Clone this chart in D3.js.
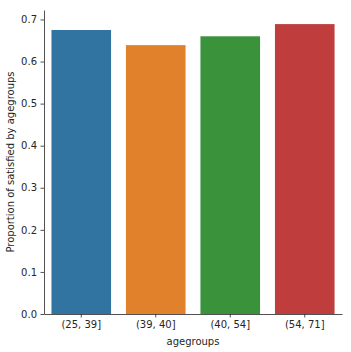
<!DOCTYPE html>
<html>
<head>
<meta charset="utf-8">
<script src="https://cdn.jsdelivr.net/npm/d3@7"></script>
<style>
  body { margin: 0; background: #fff; }
  text { font-family: "DejaVu Sans", sans-serif; fill: #262626; }
</style>
</head>
<body>
<div id="chart"></div>
<script>
// Proportion of satisfied by agegroups

const categories = ["(25, 39]", "(39, 40]", "(40, 54]", "(54, 71]"];
const values = [0.675, 0.639, 0.660, 0.689];
const colors = ["#3274a1", "#e1812c", "#3a923a", "#c03d3e"];
const yTicks = [0.0, 0.1, 0.2, 0.3, 0.4, 0.5, 0.6, 0.7];

const width = 351, height = 352;
const margin = { top: 10, right: 9, bottom: 38, left: 44 };

const svg = d3.select("#chart")
  .append("svg")
  .attr("width", width)
  .attr("height", height);

const x = d3.scaleBand()
  .domain(categories)
  .range([margin.left, width - margin.right])
  .paddingInner(0.2)
  .paddingOuter(0.1);

const y = d3.scaleLinear()
  .domain([0, 0.7225])
  .range([height - margin.bottom, margin.top]);

svg.append("g")
  .selectAll("rect")
  .data(categories)
  .join("rect")
  .attr("x", d => x(d))
  .attr("y", (d, i) => y(values[i]))
  .attr("width", x.bandwidth())
  .attr("height", (d, i) => y(0) - y(values[i]))
  .attr("fill", (d, i) => colors[i]);

const xAxis = svg.append("g")
  .attr("transform", `translate(0,${height - margin.bottom})`)
  .call(d3.axisBottom(x).tickSize(3.5).tickPadding(3.5).tickSizeOuter(0));

const yAxis = svg.append("g")
  .attr("transform", `translate(${margin.left},0)`)
  .call(d3.axisLeft(y).tickValues(yTicks).tickFormat(d3.format(".1f")).tickSize(3.5).tickPadding(3.5).tickSizeOuter(0));

for (const g of [xAxis, yAxis]) {
  g.selectAll("text").attr("font-size", 10).attr("font-family", "DejaVu Sans").attr("fill", "#262626");
  g.selectAll("line").attr("stroke", "#262626").attr("stroke-width", 0.8);
  g.select(".domain").attr("stroke", "#262626").attr("stroke-width", 0.8);
}

svg.append("text")
  .attr("x", (margin.left + width - margin.right) / 2)
  .attr("y", 345)
  .attr("text-anchor", "middle")
  .attr("font-size", 10)
  .text("agegroups");

svg.append("text")
  .attr("transform", `translate(14,${(margin.top + height - margin.bottom) / 2}) rotate(-90)`)
  .attr("text-anchor", "middle")
  .attr("font-size", 10)
  .text("Proportion of satisfied by agegroups");
</script>
</body>
</html>
